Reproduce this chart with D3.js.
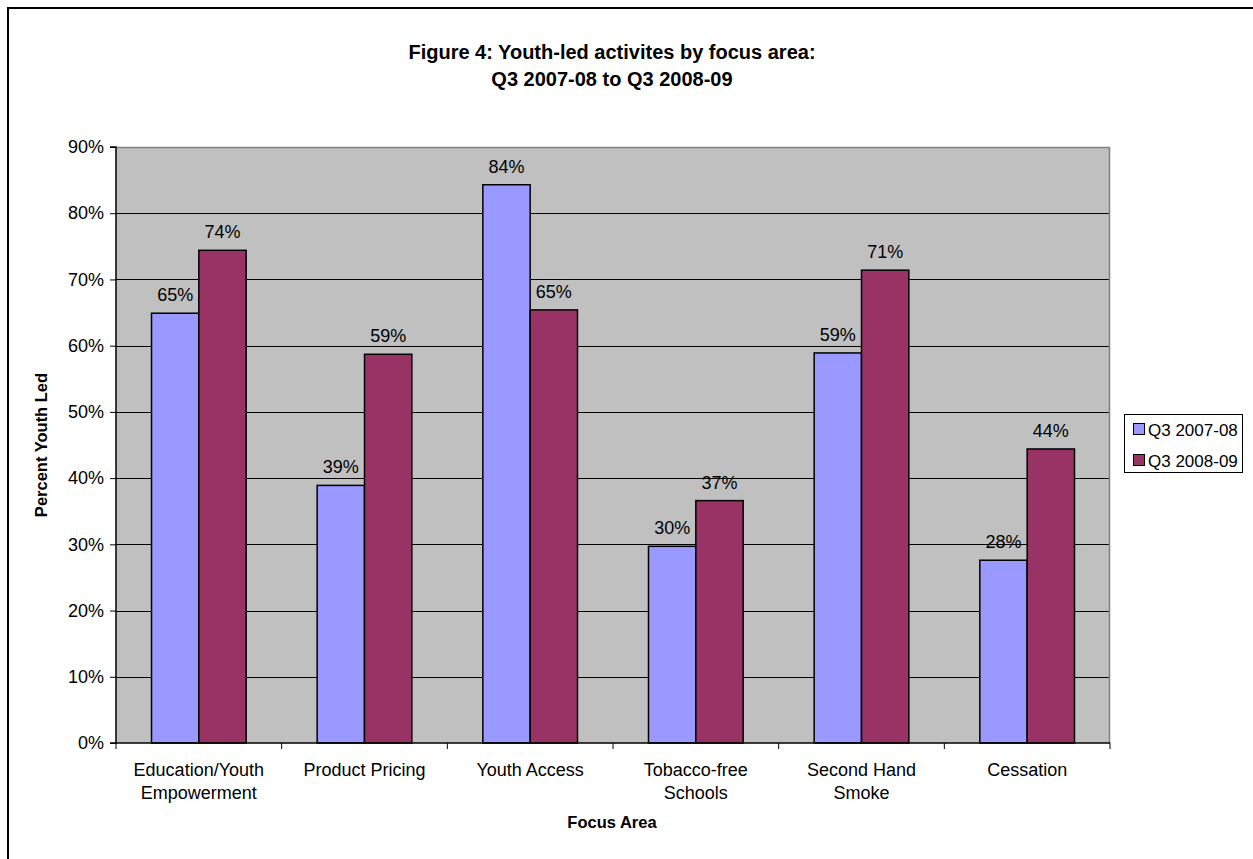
<!DOCTYPE html>
<html>
<head>
<meta charset="utf-8">
<script src="https://cdn.jsdelivr.net/npm/d3@7"></script>
<style>
  html, body { margin: 0; padding: 0; background: #fff; }
  svg { display: block; font-family: Arial, "Liberation Sans", sans-serif; }
</style>
</head>
<body>
<svg id="chart" width="1253" height="859"></svg>
<script>
// Focus areas (two-line labels split on "\n")
const categories = [
  "Education/Youth\nEmpowerment",
  "Product Pricing",
  "Youth Access",
  "Tobacco-free\nSchools",
  "Second Hand\nSmoke",
  "Cessation"
];
const seriesNames = ["Q3 2007-08", "Q3 2008-09"];
// Percent of activities that were youth-led
const q3_2007_08 = [64.9, 38.9, 84.3, 29.7, 58.9, 27.6];
const q3_2008_09 = [74.4, 58.7, 65.4, 36.6, 71.4, 44.4];
const yTicks = [0, 10, 20, 30, 40, 50, 60, 70, 80, 90];

const colors = ["#9999FF", "#993366"];
const seriesValues = [q3_2007_08, q3_2008_09];

const svg = d3.select("#chart");
const plot = { left: 116, right: 1110, top: 147, bottom: 743 };

// Outer chart frame (runs off the bottom/right of the page)
svg.append("rect")
  .attr("x", 8).attr("y", 8)
  .attr("width", 1300).attr("height", 900)
  .attr("fill", "none").attr("stroke", "#000").attr("stroke-width", 2);

// Title
const title = svg.append("text")
  .attr("text-anchor", "middle")
  .attr("font-size", 20).attr("font-weight", "bold");
title.append("tspan").attr("x", 612).attr("y", 59).text("Figure 4: Youth-led activites by focus area:");
title.append("tspan").attr("x", 612).attr("y", 86).text("Q3 2007-08 to Q3 2008-09");

const x0 = d3.scaleBand().domain(d3.range(categories.length))
  .range([plot.left, plot.right]).paddingInner(0).paddingOuter(0);
const x1 = d3.scaleBand().domain([0, 1])
  .range([0, x0.bandwidth()]).paddingInner(0).paddingOuter(0.75);
const y = d3.scaleLinear().domain([0, 90]).range([plot.bottom, plot.top]);

// Plot background
svg.append("rect")
  .attr("x", plot.left).attr("y", plot.top)
  .attr("width", plot.right - plot.left).attr("height", plot.bottom - plot.top)
  .attr("fill", "#C0C0C0");

// Gridlines
svg.append("g").selectAll("line")
  .data(yTicks.filter(t => t > 0))
  .join("line")
  .attr("x1", plot.left).attr("x2", plot.right)
  .attr("y1", d => Math.round(y(d)) + 0.5).attr("y2", d => Math.round(y(d)) + 0.5)
  .attr("stroke", "#000").attr("stroke-width", 1);

// Plot border right/top (grey)
svg.append("path")
  .attr("d", `M${plot.left},${plot.top + 0.5}H${plot.right - 0.5}V${plot.bottom}`)
  .attr("fill", "none").attr("stroke", "#808080").attr("stroke-width", 1.5);

// Bars
const groups = svg.append("g").selectAll("g")
  .data(categories.map((c, i) => i))
  .join("g")
  .attr("transform", i => `translate(${x0(i)},0)`);

groups.selectAll("rect")
  .data(i => seriesValues.map((vals, s) => ({ s, v: vals[i] })))
  .join("rect")
  .attr("x", d => x1(d.s))
  .attr("y", d => y(d.v))
  .attr("width", x1.bandwidth())
  .attr("height", d => y(0) - y(d.v))
  .attr("fill", d => colors[d.s])
  .attr("stroke", "#000").attr("stroke-width", 1.5);

// Value labels
groups.selectAll("text")
  .data(i => seriesValues.map((vals, s) => ({ s, v: vals[i] })))
  .join("text")
  .attr("x", d => x1(d.s) + x1.bandwidth() / 2)
  .attr("y", d => y(d.v) - 12)
  .attr("text-anchor", "middle")
  .attr("font-size", 18)
  .attr("fill", "#000")
  .text(d => Math.round(d.v) + "%");

// Y axis
const yAxis = d3.axisLeft(y).tickValues(yTicks).tickFormat(d => d + "%")
  .tickSize(6).tickPadding(6);
const gy = svg.append("g").attr("transform", `translate(${plot.left},0)`).call(yAxis);
gy.select(".domain").attr("stroke", "#000").attr("stroke-width", 1.5).attr("d", `M-6,${plot.top}H0V${plot.bottom}H-6`);
gy.selectAll(".tick line").attr("stroke", "#000");
gy.selectAll(".tick text").attr("font-size", 18).attr("font-family", "Arial, 'Liberation Sans', sans-serif").attr("fill", "#000");

// X axis
svg.append("line")
  .attr("x1", plot.left).attr("x2", plot.right)
  .attr("y1", plot.bottom).attr("y2", plot.bottom)
  .attr("stroke", "#000").attr("stroke-width", 1.5);
svg.append("g").selectAll("line")
  .data(d3.range(categories.length + 1))
  .join("line")
  .attr("x1", i => i < categories.length ? x0(i) : plot.right)
  .attr("x2", i => i < categories.length ? x0(i) : plot.right)
  .attr("y1", plot.bottom).attr("y2", plot.bottom + 6)
  .attr("stroke", "#000").attr("stroke-width", 1);

const xl = svg.append("g").selectAll("text")
  .data(categories.map((c, i) => ({ c, i })))
  .join("text")
  .attr("text-anchor", "middle")
  .attr("font-size", 18)
  .attr("fill", "#000");
xl.each(function(d) {
  const t = d3.select(this);
  d.c.split("\n").forEach((line, k) => {
    t.append("tspan")
      .attr("x", x0(d.i) + x0.bandwidth() / 2)
      .attr("y", 776 + k * 23)
      .text(line);
  });
});

// Axis titles
svg.append("text")
  .attr("x", 612).attr("y", 828)
  .attr("text-anchor", "middle")
  .attr("font-size", 16.5).attr("font-weight", "bold")
  .text("Focus Area");
svg.append("text")
  .attr("transform", "translate(47,445) rotate(-90)")
  .attr("text-anchor", "middle")
  .attr("font-size", 16.5).attr("font-weight", "bold")
  .text("Percent Youth Led");

// Legend
const legend = svg.append("g");
legend.append("rect")
  .attr("x", 1124.5).attr("y", 414.5).attr("width", 118).attr("height", 58)
  .attr("fill", "#fff").attr("stroke", "#000").attr("stroke-width", 1);
const li = legend.selectAll("g.item")
  .data(seriesNames.map((n, s) => ({ n, s })))
  .join("g").attr("class", "item")
  .attr("transform", d => `translate(1133,${423 + d.s * 31})`);
li.append("rect")
  .attr("x", 0.5).attr("y", 0.5).attr("width", 11).attr("height", 11)
  .attr("fill", d => colors[d.s]).attr("stroke", "#000").attr("stroke-width", 1);
li.append("text")
  .attr("x", 15).attr("y", 12.5)
  .attr("font-size", 17).attr("fill", "#000")
  .text(d => d.n);
</script>
</body>
</html>
